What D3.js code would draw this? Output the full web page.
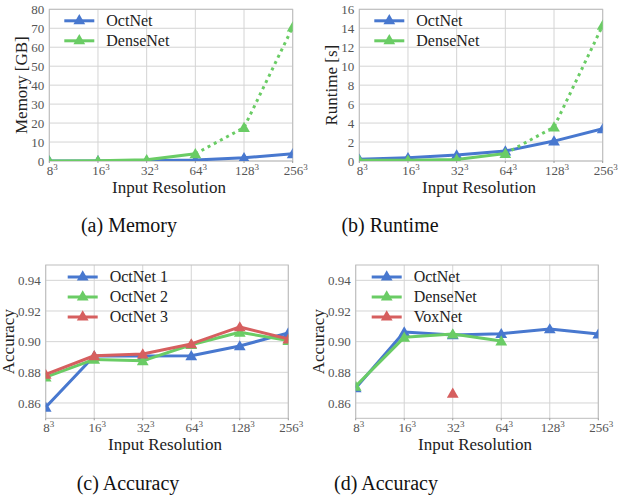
<!DOCTYPE html>
<html>
<head>
<meta charset="utf-8">
<script src="https://cdn.jsdelivr.net/npm/d3@7"></script>
<style>
  body { margin: 0; background: #fff; }
  svg { display: block; }
  svg text { font-family: "Liberation Serif", "Times New Roman", serif; }
</style>
</head>
<body>
<div class="chart"></div>
<script>
// resolutions (base of the cube)
var resLabels = ["8", "16", "32", "64", "128", "256"];

// (a) memory in GB
var memOct = [0.02, 0.05, 0.15, 0.5, 1.7, 3.8];
var memDense = [0.03, 0.1, 0.6, 3.8, 17.6, 70.6];

// (b) runtime in s
var rtOct = [0.18, 0.35, 0.63, 1.05, 2.1, 3.4];
var rtDense = [0.07, 0.08, 0.17, 0.78, 3.58, 14.3];

// (c) accuracy of the three OctNets
var accOct1 = [0.8572, 0.8906, 0.8906, 0.8908, 0.8972, 0.9057];
var accOct2 = [0.8768, 0.8884, 0.8875, 0.8980, 0.9061, 0.9007];
var accOct3 = [0.8786, 0.8908, 0.8919, 0.8985, 0.9096, 0.9017];

// (d) accuracy of the networks
var accOct = [0.8698, 0.9063, 0.9044, 0.9052, 0.9083, 0.9050];
var accDense = [0.8709, 0.9028, 0.9050, 0.9004];
var accVox = [null, null, 0.8663];

var memTicks = [0, 10, 20, 30, 40, 50, 60, 70, 80];
var rtTicks = [0, 2, 4, 6, 8, 10, 12, 14, 16];
var accTicks = [0.86, 0.88, 0.90, 0.92, 0.94];

var blue = "#4878cf", green = "#6acc65", red = "#d65f5f";

var svg = d3.select(".chart").append("svg")
  .attr("width", 623)
  .attr("height", 497);

var defs = svg.append("defs");
var tri = d3.symbol().type(d3.symbolTriangle).size(60);

function drawPanel(p) {
  var x = d3.scalePoint().domain(resLabels).range([p.left, p.right]);
  var y = d3.scaleLinear().domain(p.yDomain).range([p.bottom, p.top]);

  var g = svg.append("g");

  // grid
  g.selectAll(".vg").data(resLabels).enter().append("line")
    .attr("x1", d => x(d)).attr("x2", d => x(d))
    .attr("y1", p.top).attr("y2", p.bottom)
    .attr("stroke", "#d4d4d4").attr("stroke-width", 1);
  g.selectAll(".hg").data(p.yTicks).enter().append("line")
    .attr("x1", p.left).attr("x2", p.right)
    .attr("y1", d => y(d)).attr("y2", d => y(d))
    .attr("stroke", "#d4d4d4").attr("stroke-width", 1);

  // frame
  g.append("rect")
    .attr("x", p.left).attr("y", p.top)
    .attr("width", p.right - p.left).attr("height", p.bottom - p.top)
    .attr("fill", "none").attr("stroke", "#bdbdbd").attr("stroke-width", 1);

  // y axis labels
  var yAxis = d3.axisLeft(y).tickValues(p.yTicks).tickSize(0).tickPadding(5)
    .tickFormat(p.yFormat);
  var ya = g.append("g").attr("transform", `translate(${p.left},0)`).call(yAxis);
  ya.attr("font-family", null);
  ya.select(".domain").remove();
  ya.selectAll("text")
    .attr("font-size", 13).attr("fill", "#555");

  // x axis labels with superscript 3
  var xa = g.append("g");
  xa.selectAll("text").data(resLabels).enter().append("text")
    .attr("x", d => x(d) + 3)
    .attr("y", p.bottom + 14)
    .attr("text-anchor", "middle")
    .attr("font-size", 13).attr("fill", "#555")
    .each(function(d) {
      var t = d3.select(this);
      t.append("tspan").text(d);
      t.append("tspan").attr("dy", -5).attr("font-size", 9).text("3");
    });
  xa.selectAll("line").data(resLabels).enter().append("line")
    .attr("x1", d => x(d)).attr("x2", d => x(d))
    .attr("y1", p.bottom).attr("y2", p.bottom + 2)
    .attr("stroke", "#999");

  // axis titles
  g.append("text")
    .attr("x", (p.left + p.right) / 2 - 2)
    .attr("y", p.bottom + 32)
    .attr("text-anchor", "middle")
    .attr("font-size", 17).attr("fill", "#222")
    .text("Input Resolution");
  g.append("text")
    .attr("transform", `translate(${p.ytX},${(p.top + p.bottom) / 2}) rotate(-90)`)
    .attr("text-anchor", "middle")
    .attr("font-size", 17).attr("fill", "#222")
    .text(p.yTitle);

  // clip marks to the plot area
  var clipId = "clip" + p.id;
  defs.append("clipPath").attr("id", clipId).append("rect")
    .attr("x", p.left).attr("y", p.top)
    .attr("width", p.right - p.left).attr("height", p.bottom - p.top);
  var plot = g.append("g").attr("clip-path", `url(#${clipId})`);

  var line = d3.line()
    .defined(d => d.v != null)
    .x(d => x(d.r)).y(d => y(d.v));

  p.series.forEach(function(s) {
    var pts = s.values.map((v, i) => ({ r: resLabels[i], v: v }));
    var solid = s.solidUpTo != null ? pts.slice(0, s.solidUpTo + 1) : pts;
    plot.append("path").datum(solid)
      .attr("d", line)
      .attr("fill", "none").attr("stroke", s.color)
      .attr("stroke-width", 3).attr("stroke-linejoin", "round");
    if (s.solidUpTo != null) {
      plot.append("path").datum(pts.slice(s.solidUpTo))
        .attr("d", line)
        .attr("fill", "none").attr("stroke", s.color)
        .attr("stroke-width", 3).attr("stroke-dasharray", "3,4");
    }
    plot.selectAll(null).data(pts.filter(d => d.v != null)).enter().append("path")
      .attr("d", tri)
      .attr("transform", d => `translate(${x(d.r)},${y(d.v) + 1})`)
      .attr("fill", s.color);
  });

  // legend
  var lg = g.append("g");
  p.series.forEach(function(s, i) {
    var ly = p.top + p.legY + i * p.legStep;
    lg.append("line")
      .attr("x1", p.left + p.legX).attr("x2", p.left + p.legX + 30)
      .attr("y1", ly).attr("y2", ly)
      .attr("stroke", s.color).attr("stroke-width", 3);
    lg.append("path").attr("d", tri)
      .attr("transform", `translate(${p.left + p.legX + 15},${ly})`)
      .attr("fill", s.color);
    lg.append("text")
      .attr("x", p.left + p.legX + 42).attr("y", ly + 5)
      .attr("font-size", 16).attr("fill", "#222")
      .text(s.name);
  });

  // caption
  svg.append("text")
    .attr("x", p.capX).attr("y", p.capY)
    .attr("text-anchor", "middle")
    .attr("font-size", 20).attr("fill", "#111")
    .text(p.caption);
}

drawPanel({
  id: "a", left: 49.3, right: 292.7, top: 9.3, bottom: 161,
  yDomain: [0, 80], yTicks: memTicks, yFormat: d3.format("d"),
  yTitle: "Memory [GB]", ytX: 27, legX: 15, legY: 11.5, legStep: 20,
  series: [
    { name: "OctNet", color: blue, values: memOct },
    { name: "DenseNet", color: green, values: memDense, solidUpTo: 3 }
  ],
  caption: "(a) Memory", capX: 129, capY: 232
});

drawPanel({
  id: "b", left: 359.3, right: 602.7, top: 9.3, bottom: 161,
  yDomain: [0, 16], yTicks: rtTicks, yFormat: d3.format("d"),
  yTitle: "Runtime [s]", ytX: 337, legX: 15, legY: 11.5, legStep: 20,
  series: [
    { name: "OctNet", color: blue, values: rtOct },
    { name: "DenseNet", color: green, values: rtDense, solidUpTo: 3 }
  ],
  caption: "(b) Runtime", capX: 390, capY: 232
});

drawPanel({
  id: "c", left: 45.7, right: 288.3, top: 265, bottom: 418.3,
  yDomain: [0.85, 0.95], yTicks: accTicks, yFormat: d3.format(".2f"),
  yTitle: "Accuracy", ytX: 14, legX: 22, legY: 12, legStep: 20,
  series: [
    { name: "OctNet 1", color: blue, values: accOct1 },
    { name: "OctNet 2", color: green, values: accOct2 },
    { name: "OctNet 3", color: red, values: accOct3 }
  ],
  caption: "(c) Accuracy", capX: 128, capY: 490
});

drawPanel({
  id: "d", left: 355.7, right: 598.3, top: 265, bottom: 418.3,
  yDomain: [0.85, 0.95], yTicks: accTicks, yFormat: d3.format(".2f"),
  yTitle: "Accuracy", ytX: 324, legX: 16, legY: 12, legStep: 20,
  series: [
    { name: "OctNet", color: blue, values: accOct },
    { name: "DenseNet", color: green, values: accDense },
    { name: "VoxNet", color: red, values: accVox }
  ],
  caption: "(d) Accuracy", capX: 386, capY: 490
});
</script>
</body>
</html>
